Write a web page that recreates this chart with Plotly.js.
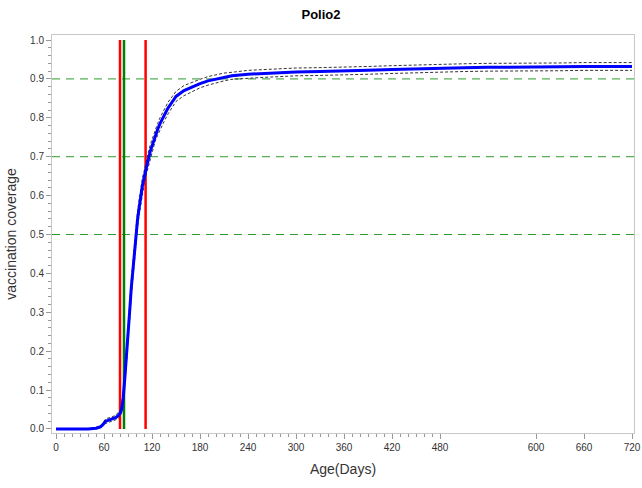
<!DOCTYPE html>
<html>
<head>
<meta charset="utf-8">
<script src="https://cdn.plot.ly/plotly-3.0.1.min.js"></script>
<style>html,body{margin:0;padding:0;background:#fff;}#chart{width:642px;height:488px;}</style>
</head>
<body>
<div id="chart"></div>
<script>
// ---- data ----
const ages = [0,10,20,30,40,50,55,58,60,62,65,70,75,78,80,82,84,86,88,90,92,94,96,98,100,102,104,106,108,110,112,115,118,121,124,127,130,135,140,145,150,160,170,180,190,200,210,220,240,260,280,300,330,360,390,420,450,480,510,540,570,600,630,660,690,720];
const coverage = [0,0,0,0,0,0.002,0.005,0.01,0.015,0.02,0.022,0.025,0.03,0.035,0.04,0.05,0.08,0.13,0.18,0.24,0.30,0.36,0.41,0.46,0.50,0.54,0.57,0.60,0.625,0.645,0.665,0.69,0.715,0.735,0.755,0.77,0.785,0.805,0.825,0.84,0.855,0.87,0.88,0.888,0.895,0.90,0.905,0.908,0.912,0.914,0.916,0.918,0.919,0.92,0.922,0.924,0.926,0.928,0.929,0.93,0.93,0.931,0.931,0.932,0.932,0.932];
const lowerCI = [0,0,0,0,0,0,0.002,0.006,0.01,0.014,0.016,0.019,0.024,0.028,0.032,0.04,0.065,0.11,0.16,0.22,0.28,0.34,0.39,0.44,0.48,0.52,0.55,0.58,0.605,0.628,0.648,0.673,0.698,0.72,0.74,0.755,0.77,0.79,0.81,0.826,0.842,0.857,0.868,0.877,0.884,0.89,0.895,0.899,0.902,0.904,0.906,0.908,0.909,0.91,0.912,0.914,0.916,0.918,0.919,0.92,0.92,0.921,0.921,0.922,0.922,0.922];
const upperCI = [0,0,0,0,0,0.004,0.008,0.014,0.02,0.026,0.028,0.031,0.036,0.042,0.048,0.06,0.095,0.15,0.2,0.26,0.32,0.38,0.43,0.48,0.52,0.56,0.59,0.62,0.645,0.662,0.682,0.707,0.732,0.75,0.77,0.785,0.8,0.82,0.84,0.854,0.868,0.883,0.892,0.899,0.906,0.91,0.915,0.917,0.922,0.924,0.926,0.928,0.929,0.93,0.932,0.934,0.936,0.938,0.939,0.94,0.94,0.941,0.941,0.942,0.942,0.942];
const redDays = [80, 112];
const greenDays = [85];
const refLevels = [0.5, 0.7, 0.9];
const xTickVals = [0,60,120,180,240,300,360,420,480,600,660,720];
const yTickVals = [0,0.1,0.2,0.3,0.4,0.5,0.6,0.7,0.8,0.9,1.0];

// minor x ticks every 10 days up to 470 (as in reference)
const xMinor = [];
for (let d = 10; d < 480; d += 10) if (d % 60 !== 0) xMinor.push(d);

const traces = [];
redDays.forEach(d => traces.push({x:[d,d], y:[0,1], mode:'lines', line:{color:'#ff0000', width:2.5}, hoverinfo:'skip', showlegend:false}));
greenDays.forEach(d => traces.push({x:[d,d], y:[0,1], mode:'lines', line:{color:'#008000', width:2.5}, hoverinfo:'skip', showlegend:false}));
traces.push({x:ages, y:lowerCI, mode:'lines', line:{color:'#333333', width:1, dash:'3px,2px'}, showlegend:false});
traces.push({x:ages, y:upperCI, mode:'lines', line:{color:'#333333', width:1, dash:'3px,2px'}, showlegend:false});
traces.push({x:ages, y:coverage, mode:'lines', line:{color:'#0000ff', width:3}, showlegend:false});

const shapes = refLevels.map(v => ({type:'line', xref:'paper', x0:0, x1:1, yref:'y', y0:v, y1:v, layer:'below', line:{color:'#2e9a2e', width:1, dash:'8px,6px'}}));

const font = {family:'"Liberation Sans", Arial, sans-serif', color:'#333'};
const layout = {
  width:642, height:488,
  margin:{l:52, r:8, t:35, b:55},
  paper_bgcolor:'#fff', plot_bgcolor:'#fff',
  font:font,
  title:{text:'<b>Polio2</b>', x:0.5, xanchor:'center', yref:'container', y:0.971, yanchor:'middle', font:{family:font.family, size:13, color:'#000'}},
  xaxis:{range:[-5,722.5], tickmode:'array', tickvals:xTickVals, ticktext:xTickVals.map(String), ticks:'outside', ticklen:5, tickcolor:'#999', tickfont:{size:10, color:'#333'},
    showgrid:false, zeroline:false, showline:true, linecolor:'#c8c8c8', linewidth:1, mirror:true,
    minor:{tickmode:'array', tickvals:xMinor, ticks:'outside', ticklen:3, tickcolor:'#999', showgrid:false},
    title:{text:'Age(Days)', font:{size:14, color:'#333'}, standoff:12}, automargin:false},
  yaxis:{range:[-0.0103,1.0129], tickmode:'array', tickvals:yTickVals, tickformat:'.1f', ticks:'outside', ticklen:5, tickcolor:'#999', tickfont:{size:10, color:'#333'},
    showgrid:false, zeroline:false, showline:true, linecolor:'#c8c8c8', linewidth:1, mirror:true,
    minor:{dtick:0.02, tick0:0, ticks:'outside', ticklen:3, tickcolor:'#999', showgrid:false},
    title:{text:'vaccination coverage', font:{size:14, color:'#333'}, standoff:10}, automargin:false},
  shapes:shapes,
  showlegend:false
};
Plotly.newPlot('chart', traces, layout, {displayModeBar:false, staticPlot:true});
</script>
</body>
</html>
